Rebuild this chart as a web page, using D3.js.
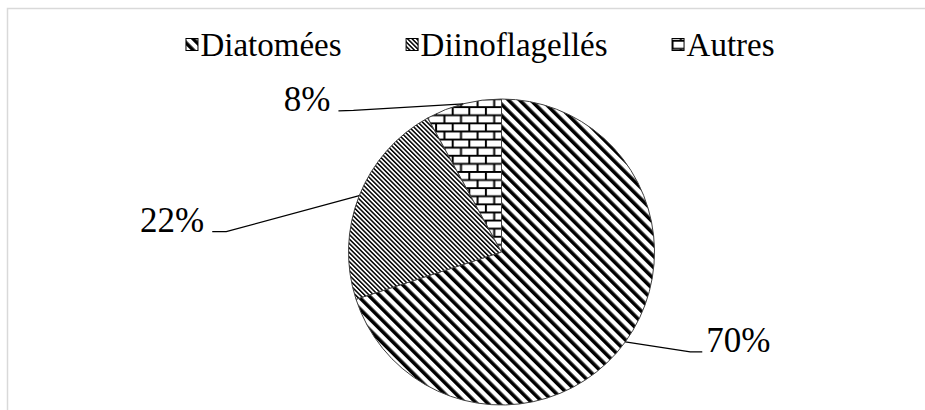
<!DOCTYPE html>
<html>
<head>
<meta charset="utf-8">
<script src="https://cdn.jsdelivr.net/npm/d3@7"></script>
<style>
  body { margin: 0; background: #fff; }
</style>
</head>
<body>
<div id="chart"></div>
<script>
const categories = ['Diatomées', 'Diinoflagellés', 'Autres'];
const values = [70, 22, 8];
const labels = ['70%', '22%', '8%'];
const patterns = ['wideStripes', 'fineStripes', 'bricks'];

// label placement relative to the point on the slice edge
const labelOffsets = [
    {elbow: [65, 10], stub: [77, 10]},
    {elbow: [-133, 36], stub: [-147, 36]},
    {elbow: [-110, 6.5], stub: [-125, 7]},
];

const serif = '"Liberation Serif", "Times New Roman", Times, serif';
const width = 925;
const height = 410;
const cx = 501.5;
const cy = 252;
const radius = 153;

const svg = d3.select('#chart')
.append('svg')
.attr('width', width)
.attr('height', height);

// chart area border (cut off at right and bottom)
svg.append('rect')
.attr('x', 7.5).attr('y', 8.5)
.attr('width', width + 20).attr('height', height + 20)
.attr('fill', 'none')
.attr('stroke', '#d9d9d9')
.attr('stroke-width', 1.5);

const defs = svg.append('defs');

function stripes(id, period, thick) {
    const p = defs.append('pattern')
    .attr('id', id)
    .attr('patternUnits', 'userSpaceOnUse')
    .attr('width', period).attr('height', period)
    .attr('patternTransform', 'rotate(-45)');
    p.append('rect').attr('width', period).attr('height', period).attr('fill', '#fff');
    p.append('rect').attr('width', thick).attr('height', period).attr('fill', '#000');
}
stripes('wideStripes', 7.9, 3.6);
stripes('fineStripes', 3.2, 1.5);

const brick = defs.append('pattern')
.attr('id', 'bricks')
.attr('patternUnits', 'userSpaceOnUse')
.attr('width', 16.6).attr('height', 16.2);
brick.append('rect').attr('width', 16.6).attr('height', 16.2).attr('fill', '#fff');
brick.append('path')
.attr('d', 'M0,1 H16.6 M0,9.1 H16.6 M1,1 V9.1 M9.3,9.1 V16.2')
.attr('stroke', '#000')
.attr('stroke-width', 2)
.attr('fill', 'none');

const pie = d3.pie().sort(null).value(d => d);
const dataPie = pie(values);

const arc = d3.arc().innerRadius(0).outerRadius(radius);
const edge = d3.arc().innerRadius(radius).outerRadius(radius);

const group = svg.append('g')
.attr('transform', `translate(${cx},${cy})`);

group.selectAll('path')
.data(dataPie)
.enter()
.append('path')
.attr('d', arc)
.attr('fill', (d, i) => `url(#${patterns[i]})`)
.attr('stroke', '#404040')
.attr('stroke-width', 1);

// leader lines and labels
dataPie.forEach((d, i) => {
    const [ex, ey] = edge.centroid(d);
    const o = labelOffsets[i];
    const elbow = [ex + o.elbow[0], ey + o.elbow[1]];
    const stub = [ex + o.stub[0], ey + o.stub[1]];
    group.append('path')
    .attr('d', d3.line()([[ex, ey], elbow, stub]))
    .attr('fill', 'none')
    .attr('stroke', '#000')
    .attr('stroke-width', 1.2);
    const right = o.stub[0] > 0;
    group.append('text')
    .attr('x', stub[0] + (right ? 4 : -8))
    .attr('y', stub[1])
    .attr('text-anchor', right ? 'start' : 'end')
    .style('font-family', serif)
    .style('font-size', '35px')
    .text(labels[i]);
});

// legend
const legend = svg.append('g');
const legendFont = 33;
const box = 12;
const itemGap = 64;
let x = 0;
categories.forEach((c, i) => {
    const g = legend.append('g').attr('transform', `translate(${x},0)`);
    g.append('rect')
    .attr('x', 0.5).attr('y', -box - 5.5)
    .attr('width', box).attr('height', box)
    .attr('fill', `url(#${patterns[i]})`)
    .attr('stroke', '#000')
    .attr('stroke-width', 1);
    const t = g.append('text')
    .attr('x', box + 3)
    .attr('y', 0)
    .style('font-family', serif)
    .style('font-size', legendFont + 'px')
    .text(c);
    x += box + 3 + t.node().getComputedTextLength() + itemGap;
});
const legendWidth = x - itemGap;
legend.attr('transform', `translate(${480 - legendWidth / 2},56)`);
</script>
</body>
</html>
